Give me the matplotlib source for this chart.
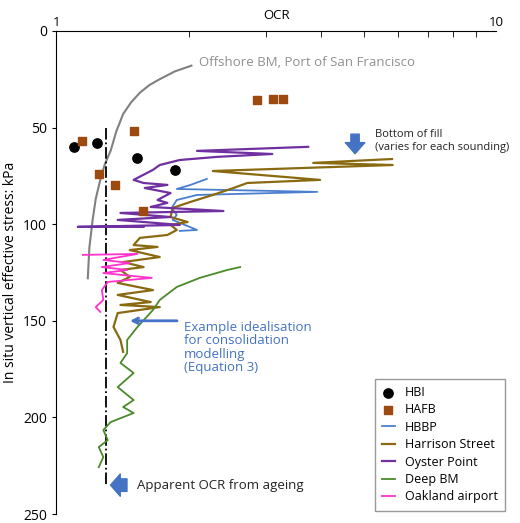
import matplotlib
matplotlib.use("Agg")
import matplotlib.pyplot as plt
from matplotlib.ticker import NullFormatter, FixedLocator

plt.rcParams['font.family'] = ['Open Sans', 'DejaVu Sans']

hbi_ocr = [1.099, 1.239, 1.528, 1.865]
hbi_s = [60, 58, 66, 72]
hafb_ocr = [1.146, 1.252, 1.362, 1.504, 1.577, 2.86, 3.11, 3.28]
hafb_s = [57, 74, 80, 52, 93, 36, 35.5, 35.5]
off_ocr = [1.18, 1.19, 1.21, 1.23, 1.26, 1.29, 1.33, 1.37, 1.42, 1.48, 1.55, 1.63, 1.72, 1.86, 2.03]
off_s = [128, 112, 98, 87, 77, 69, 62, 52, 43, 37, 32, 28, 25, 21, 18]
hbbp_ocr = [2.20, 2.02, 1.88, 3.92, 2.09, 1.88, 1.83, 1.88, 1.84, 2.09, 1.91]
hbbp_s = [76.6, 79.7, 81.8, 83.3, 84.9, 87.5, 91.6, 95.2, 97.8, 103.0, 103.5]
har_ocr = [5.80, 3.84, 5.82, 2.27, 3.98, 2.72, 2.53, 2.27, 2.02, 1.84, 1.82, 1.99, 1.82, 1.88, 1.79,
           1.55, 1.50, 1.70, 1.47, 1.72, 1.42, 1.58, 1.40, 1.47, 1.38, 1.66, 1.38, 1.64, 1.40, 1.72,
           1.38, 1.35, 1.40, 1.42]
har_s = [66.3, 68.3, 69.4, 72.5, 77.1, 78.7, 81.3, 84.9, 88.5, 91.6, 96.3, 98.9, 100.4, 103.0, 105.6,
         107.1, 110.8, 111.8, 113.4, 117.0, 119.6, 122.2, 123.7, 127.3, 130.4, 134.1, 136.6, 140.3, 141.8, 142.9,
         146.0, 153.2, 159.9, 166.1]
oys_ocr = [3.74, 2.09, 3.10, 2.32, 1.91, 1.72, 1.66, 1.50, 1.58, 1.79, 1.59, 1.82, 1.70, 1.79, 1.64,
           2.40, 1.40, 1.82, 1.38, 1.91, 1.12, 1.58]
oys_s = [60.0, 62.1, 63.7, 65.2, 66.8, 69.4, 71.9, 77.1, 78.7, 79.7, 81.3, 83.9, 87.5, 89.0, 91.1,
         93.2, 94.2, 96.3, 97.8, 100.4, 101.4, 101.4]
deep_ocr = [2.62, 2.45, 2.12, 1.88, 1.72, 1.66, 1.53, 1.45, 1.45, 1.40, 1.50, 1.38, 1.50, 1.42, 1.50,
            1.33, 1.28, 1.31, 1.25, 1.28, 1.25]
deep_s = [122.2, 123.7, 127.8, 132.5, 139.2, 144.4, 153.2, 159.9, 166.7, 171.8, 177.0, 184.3, 191.0, 194.6, 197.7,
          202.4, 206.5, 211.7, 215.3, 220.5, 225.7]
oak_ocr = [1.15, 1.53, 1.28, 1.47, 1.27, 1.45, 1.28, 1.65, 1.31, 1.27, 1.28, 1.23, 1.26]
oak_s = [115.9, 115.4, 118.5, 120.1, 122.2, 123.7, 125.3, 127.8, 129.9, 134.1, 139.2, 142.9, 145.4]
age_ocr = [1.30, 1.30]
age_s = [50, 235]

fig = plt.figure(figsize=(5.2, 5.23), dpi=100)
ax = fig.add_axes([0.108, 0.017, 0.846, 0.924])
ax.set_xscale('log')
ax.set_xlim(1, 10)
ax.set_ylim(250, 0)

ax.plot(off_ocr, off_s, color='#808080', lw=1.5)
ax.plot(age_ocr, age_s, color='black', lw=1.3, ls='-.')
ax.plot(hbbp_ocr, hbbp_s, color='#4a7fd0', lw=1.3, label='HBBP')
ax.plot(har_ocr, har_s, color='#8a6a10', lw=1.6, label='Harrison Street')
ax.plot(oys_ocr, oys_s, color='#7030a0', lw=1.6, label='Oyster Point')
ax.plot(deep_ocr, deep_s, color='#4a8a2a', lw=1.3, label='Deep BM')
ax.plot(oak_ocr, oak_s, color='#ff33cc', lw=1.3, label='Oakland airport')
ax.scatter(hbi_ocr, hbi_s, color='black', s=45, zorder=5, label='HBI')
ax.scatter(hafb_ocr, hafb_s, color='#9c4a10', marker='s', s=30, zorder=5, label='HAFB')

h, l = ax.get_legend_handles_labels()
order = ['HBI', 'HAFB', 'HBBP', 'Harrison Street', 'Oyster Point', 'Deep BM', 'Oakland airport']
hd = dict(zip(l, h))
leg = ax.legend([hd[k] for k in order], order, loc='lower right', fontsize=9, frameon=True,
                fancybox=False, edgecolor='#808080', borderpad=0.6, labelspacing=0.35,
                handlelength=1.0, bbox_to_anchor=(1.035, -0.006))

ax.text(2.11, 16.6, 'Offshore BM, Port of San Francisco', color='#909090', fontsize=9.5, va='center')
ax.annotate('', xy=(4.78, 65), xytext=(4.78, 52),
            arrowprops=dict(arrowstyle='simple,head_width=1.4,head_length=0.8,tail_width=0.6',
                            color='#4472c4'))
ax.text(5.31, 57, 'Bottom of fill\n(varies for each sounding)', fontsize=8, va='center', color='#222222')
ax.annotate('', xy=(1.45, 150), xytext=(1.91, 150),
            arrowprops=dict(arrowstyle='->', color='#4472c4', lw=2))
ax.text(1.95, 150, 'Example idealisation\nfor consolidation\nmodelling\n(Equation 3)', color='#4472c4',
        fontsize=9.5, va='top', linespacing=1.05)
ax.annotate('', xy=(1.31, 235), xytext=(1.47, 235),
            arrowprops=dict(arrowstyle='simple,head_width=1.6,head_length=0.7,tail_width=0.9',
                            color='#4472c4'))
ax.text(1.53, 235, 'Apparent OCR from ageing', fontsize=9.5, va='center', color='#222222')

ax.xaxis.tick_top()
ax.xaxis.set_label_position('top')
ax.set_xlabel('OCR', fontsize=9.5, labelpad=-2)
ax.set_xticks([1, 10])
ax.set_xticklabels(['1', '10'], fontsize=9.5)
ax.xaxis.set_minor_locator(FixedLocator([2, 3, 4, 5, 6, 7, 8, 9]))
ax.xaxis.set_minor_formatter(NullFormatter())
ax.tick_params(axis='x', which='major', length=0, pad=1)
ax.tick_params(axis='x', which='minor', direction='in', length=4)
ax.set_yticks([0, 50, 100, 150, 200, 250])
ax.tick_params(axis='y', labelsize=10, length=3)
ax.set_ylabel('In situ vertical effective stress: kPa', fontsize=10)
ax.spines['right'].set_visible(False)
ax.spines['bottom'].set_visible(False)

fig.savefig('out.png', dpi=100)
